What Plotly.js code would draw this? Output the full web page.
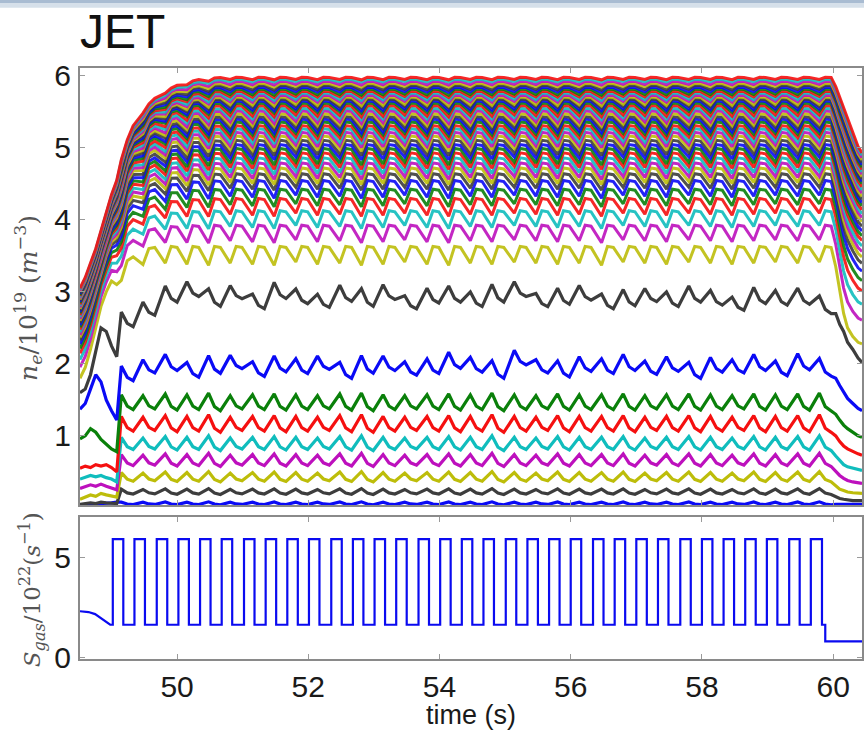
<!DOCTYPE html>
<html><head><meta charset="utf-8">
<script src="https://cdn.plot.ly/plotly-3.0.1.min.js"></script>
<style>html,body{margin:0;padding:0;background:#fff;}#chart{width:864px;height:733px;}</style>
</head><body><div id="chart"></div>
<script>
// ---------- gas source S_gas (lower panel), units 1e22 /s ----------
const pulseOn  = [49.02,49.35,49.69,50.02,50.35,50.68,51.02,51.35,51.68,52.01,52.35,52.68,53.01,53.34,53.68,54.01,54.34,54.67,55.01,55.34,55.67,56.00,56.34,56.67,57.00,57.33,57.67,58.00,58.33,58.66,58.99,59.33,59.66];
const pulseOff = [49.18,49.51,49.85,50.18,50.51,50.84,51.18,51.51,51.84,52.17,52.51,52.84,53.17,53.50,53.84,54.17,54.50,54.83,55.17,55.50,55.83,56.16,56.50,56.83,57.16,57.49,57.83,58.16,58.49,58.82,59.15,59.49,59.83];
const gasHigh = 5.9;
const gasLow = 1.65;
const gasPreT = [48.52,48.65,48.75,48.85,48.93,48.98];
const gasPreV = [2.32,2.28,2.18,1.95,1.75,1.65];
const gasEndT = [59.88,60.44];
const gasEndV = [0.82,0.82];

// ---------- density channels n_e (upper panel), units 1e19 m^-3 ----------
const tPre  = [48.52,48.60,48.68,48.76,48.84,48.92,49.00,49.08];
const tPost = [60.04,60.10,60.16,60.22,60.30,60.38,60.44];
const sampleAfterPuff = [0.13,0.22,0.31];   // sample times after each puff: dip, top, top

// dense upper bundle (flat-top levels and modulation amplitude per channel)
const bundleLevels = [3.55,3.85,4.05,4.22,4.35,4.47,4.57,4.65,4.72,4.79,4.86,4.92,4.98,5.04,5.10,5.15,5.20,5.25,5.30,5.34,5.38,5.42,5.46,5.50,5.54,5.58,5.61,5.64,5.67,5.70,5.73,5.76,5.79,5.82,5.85,5.88,5.91,5.94,5.97];
const bundleAmps   = [0.15,0.14,0.14,0.14,0.14,0.14,0.13,0.13,0.13,0.13,0.13,0.13,0.12,0.12,0.12,0.12,0.12,0.11,0.11,0.11,0.10,0.10,0.10,0.09,0.09,0.08,0.08,0.07,0.07,0.06,0.06,0.05,0.05,0.04,0.04,0.03,0.03,0.02,0.02];
const bundleBotRef = 3.55, bundleTopRef = 5.97;
const envTopPre   = [3.05,3.20,3.40,3.60,3.85,4.10,4.35,4.55];
const envBotPre   = [1.80,1.95,2.20,2.50,2.80,3.00,3.15,3.10];
const envTopEarly = [4.85,5.10,5.30,5.50,5.60,5.68,5.78,5.82,5.86,5.90,5.92,5.94,5.95,5.96,5.97];
const envBotEarly = [3.25,3.35,3.42,3.50,3.52,3.55,3.55,3.55,3.55,3.55,3.55,3.55,3.55,3.55,3.55];
const envTopPost  = [5.85,5.70,5.55,5.40,5.20,5.02,4.93];
const envBotPost  = [3.35,3.00,2.70,2.50,2.38,2.30,2.28];
const bundleShape = [-1.0,0.55,0.45];
const bundleDip = [0.6,0.8,1.0,1.1,1.2,1.0,1.1,1.2,0.9,1.1,1.0,1.2,1.1,0.9,1.1,1.2,1.0,1.1,0.9,1.0,1.1,1.0,1.2,0.9,1.0,1.1,0.9,1.0,1.1,1.0,0.9,1.0,0.9];

// separated lower channels (bottom to top)
const lowLevels = [0.06,0.22,0.42,0.65,0.88,1.15,1.45,1.95,2.90];
const lowAmps   = [0.02,0.04,0.07,0.09,0.10,0.12,0.12,0.12,0.12];
const lowPre = [
  [0.04,0.04,0.05,0.05,0.06,0.06,0.07,0.08],
  [0.05,0.06,0.07,0.06,0.08,0.07,0.06,0.06],
  [0.12,0.15,0.18,0.16,0.20,0.18,0.17,0.15],
  [0.27,0.30,0.32,0.30,0.33,0.30,0.28,0.25],
  [0.40,0.42,0.45,0.43,0.45,0.42,0.40,0.36],
  [0.55,0.58,0.56,0.60,0.58,0.60,0.56,0.50],
  [0.96,1.00,1.10,1.05,0.95,0.88,0.82,0.78],
  [1.37,1.45,1.65,1.85,1.75,1.50,1.35,1.22],
  [1.60,1.65,1.85,2.20,2.50,2.45,2.25,2.10]
];
const lowPost = [
  [0.05,0.05,0.05,0.05,0.05,0.05,0.05],
  [0.15,0.13,0.12,0.11,0.10,0.10,0.10],
  [0.30,0.26,0.24,0.22,0.21,0.20,0.20],
  [0.50,0.45,0.41,0.38,0.36,0.35,0.34],
  [0.72,0.66,0.60,0.57,0.55,0.53,0.52],
  [1.00,0.92,0.86,0.82,0.78,0.75,0.73],
  [1.30,1.22,1.15,1.10,1.05,1.00,0.98],
  [1.80,1.70,1.60,1.52,1.45,1.38,1.35],
  [2.70,2.55,2.45,2.30,2.20,2.08,2.02]
];
const lowShape = [1.0,-0.3,-0.7];
const lowPeak = [1.0,0.9,1.1,1.0,1.2,0.9,1.0,1.1,1.0,0.9,1.1,1.2,1.0,0.9,1.0,1.1,1.0,1.2,1.0,0.9,1.1,1.0,1.0,1.1,0.9,1.0,1.1,1.0,0.9,1.1,1.0,1.1,1.2];
const blue2Off  = [-0.10,0.00,0.05,-0.05,0.02,0.06,-0.04,0.03,0.00,0.05,-0.06,0.02,0.04,-0.03,0.00,0.08,0.02,-0.05,0.12,0.00,-0.04,0.03,0.00,0.05,-0.02,0.03,-0.06,0.02,0.00,0.05,-0.03,0.06,-0.02];
const black2Off = [-0.30,-0.15,0.05,0.12,0.00,0.08,-0.05,0.10,0.02,-0.04,0.06,0.00,0.08,-0.06,0.03,0.05,-0.02,0.06,0.12,-0.03,0.02,0.07,-0.05,0.00,0.04,-0.02,0.05,0.00,-0.08,0.03,0.00,0.02,-0.10];

const colorCycle = ['#0a0af5','#3d3d3d','#bdbd0a','#bd10bd','#10bdbd','#f51010','#0a800a'];

// ---------- build ----------
const tGrid = [...tPre];
pulseOn.forEach(on => sampleAfterPuff.forEach(d => tGrid.push(+(on + d).toFixed(3))));
tPost.forEach(v => tGrid.push(v));

const traces = [];
bundleLevels.forEach((L, i) => {
  const f = (L - bundleBotRef) / (bundleTopRef - bundleBotRef);
  const amp = bundleAmps[i] !== undefined ? bundleAmps[i] : 0.02;
  const y = tPre.map((_, j) => envBotPre[j] + (envTopPre[j] - envBotPre[j]) * f);
  pulseOn.forEach((_, k) => {
    for (let p = 0; p < 3; p++) {
      const idx = k * 3 + p;
      const top = idx < envTopEarly.length ? envTopEarly[idx] : bundleTopRef;
      const bot = idx < envBotEarly.length ? envBotEarly[idx] : bundleBotRef;
      const w = bundleShape[p] * (p === 0 ? bundleDip[k] : 1) * amp;
      y.push(bot + (top - bot) * f + w);
    }
  });
  tPost.forEach((_, j) => y.push(envBotPost[j] + (envTopPost[j] - envBotPost[j]) * f));
  traces.push({x: tGrid, y: y, xaxis: 'x', yaxis: 'y', type: 'scatter', mode: 'lines',
    line: {color: colorCycle[(9 + i) % 7], width: 3}, opacity: 0.9, hoverinfo: 'skip'});
});
lowLevels.forEach((L, m) => {
  const y = [...lowPre[m]];
  pulseOn.forEach((_, k) => {
    for (let p = 0; p < 3; p++) {
      let v = L + lowAmps[m] * lowShape[p] * lowPeak[k];
      if (m === 7) v += blue2Off[k];
      if (m === 8) v += black2Off[k];
      y.push(v);
    }
  });
  lowPost[m].forEach(v => y.push(v));
  traces.push({x: tGrid, y: y, xaxis: 'x', yaxis: 'y', type: 'scatter', mode: 'lines',
    line: {color: colorCycle[m % 7], width: 3.2}, hoverinfo: 'skip'});
});

// gas trace
const gx = [...gasPreT], gy = [...gasPreV];
pulseOn.forEach((on, k) => {
  gx.push(on, on, pulseOff[k], pulseOff[k]);
  gy.push(gasLow, gasHigh, gasHigh, gasLow);
});
gx.push(gasEndT[0], gasEndT[0], gasEndT[1]);
gy.push(gasLow, gasEndV[0], gasEndV[1]);
traces.push({x: gx, y: gy, xaxis: 'x2', yaxis: 'y2', type: 'scatter', mode: 'lines',
  line: {color: '#0a0af0', width: 2.2}, hoverinfo: 'skip'});

const axBase = {showgrid: false, zeroline: false, showline: true, linecolor: '#8a8a8a', linewidth: 2,
  mirror: 'ticks', ticks: 'inside', ticklen: 5, tickcolor: '#9a9a9a', tickwidth: 1,
  tickfont: {family: 'Liberation Sans, Arial, sans-serif', size: 30, color: '#1a1a1a'}};
const xTicks = [50,52,54,56,58,60];

const layout = {
  width: 864, height: 733,
  margin: {l: 80, r: 2, t: 68, b: 74},
  paper_bgcolor: '#ffffff', plot_bgcolor: '#ffffff',
  showlegend: false,
  font: {family: 'Liberation Sans, Arial, sans-serif', color: '#111'},
  xaxis: Object.assign({}, axBase, {domain: [0, 1], range: [48.52, 60.44], anchor: 'y', tickvals: xTicks, showticklabels: false}),
  yaxis: Object.assign({}, axBase, {domain: [0.2606, 1], range: [0.04, 6.11], anchor: 'x', tickvals: [1,2,3,4,5,6], ticklabelstandoff: 1}),
  xaxis2: Object.assign({}, axBase, {domain: [0, 1], range: [48.52, 60.44], anchor: 'y2', tickvals: xTicks, ticklabelstandoff: 0}),
  yaxis2: Object.assign({}, axBase, {domain: [0, 0.2403], range: [-0.05, 7.0], anchor: 'x2', tickvals: [0,5], ticklabelstandoff: 1}),
  annotations: [
    {text: 'JET', xref: 'paper', yref: 'paper', x: -0.003, y: 1.0626, xanchor: 'left', yanchor: 'middle', showarrow: false,
     font: {family: 'Liberation Sans, Arial, sans-serif', size: 48, color: '#111'}},
    {text: 'time (s)', xref: 'paper', yref: 'paper', x: 0.5, y: -0.0945, xanchor: 'center', yanchor: 'middle', showarrow: false,
     font: {family: 'Liberation Sans, Arial, sans-serif', size: 27, color: '#1a1a1a'}},
    {text: '<i>n<sub>e</sub></i>/10<sup>19</sup> (<i>m</i><sup>−3</sup>)', xref: 'paper', yref: 'paper', x: -0.0665, y: 0.611,
     xanchor: 'center', yanchor: 'middle', textangle: -90, showarrow: false,
     font: {family: 'DejaVu Serif, Liberation Serif, serif', size: 25, color: '#555'}},
    {text: '<i>S<sub>gas</sub></i>/10<sup>22</sup>(<i>s</i><sup>−1</sup>)', xref: 'paper', yref: 'paper', x: -0.061, y: 0.117,
     xanchor: 'center', yanchor: 'middle', textangle: -90, showarrow: false,
     font: {family: 'DejaVu Serif, Liberation Serif, serif', size: 23, color: '#555'}}
  ],
  shapes: [
    {type: 'rect', xref: 'paper', yref: 'paper', x0: -0.11, x1: 1.01, y0: 1.1100, y1: 1.1160, fillcolor: '#a9bcd2', line: {width: 0}, layer: 'below'},
    {type: 'rect', xref: 'paper', yref: 'paper', x0: -0.11, x1: 1.01, y0: 1.1020, y1: 1.1100, fillcolor: '#d6e0ea', line: {width: 0}, layer: 'below'}
  ]
};

Plotly.newPlot('chart', traces, layout, {displayModeBar: false, staticPlot: true});
</script>
</body></html>
